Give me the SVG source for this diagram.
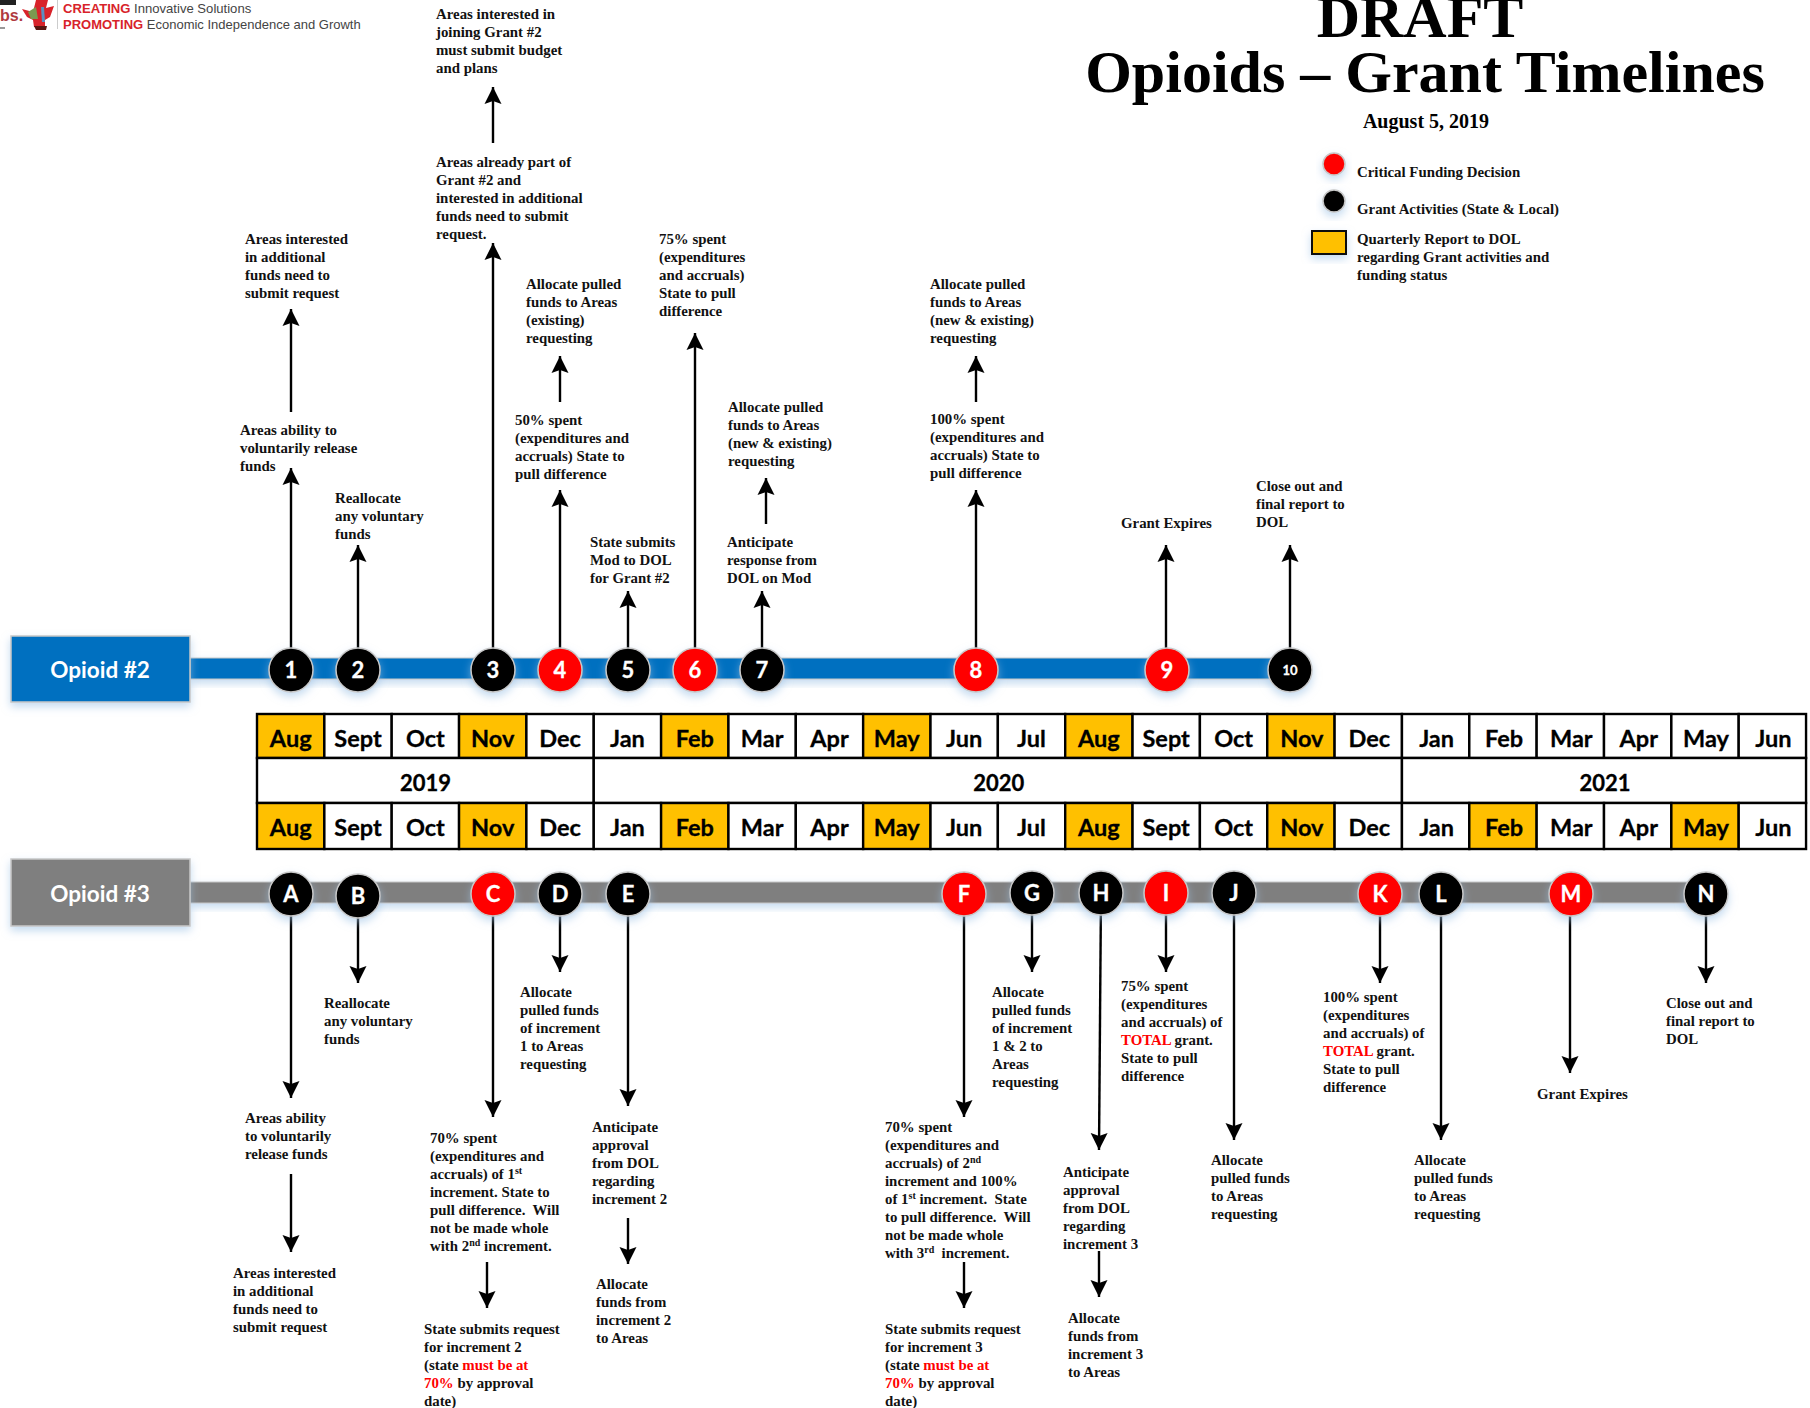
<svg xmlns="http://www.w3.org/2000/svg" width="1810" height="1408" viewBox="0 0 1810 1408">
<style>
text{font-family:"Liberation Serif",serif}
.t{font-size:14.85px;font-weight:bold;fill:#111;white-space:pre}
.r{fill:#f00}
.s{font-size:10px}
.n{font-family:Lato,"Open Sans",sans-serif;font-weight:bold;font-size:22px;fill:#fff;text-anchor:middle;stroke:#fff;stroke-width:.3}
.m{font-family:Lato,"Open Sans",sans-serif;font-weight:bold;font-size:23.5px;fill:#000;text-anchor:middle;stroke:#000;stroke-width:.3}
.o{font-family:Lato,"Open Sans",sans-serif;font-weight:bold;font-size:22.5px;fill:#fff;text-anchor:middle}
.c{fill:none;stroke:#000;stroke-width:2.4;marker-end:url(#a)}
.g{fill:#fff;stroke:#000;stroke-width:2.4}
.y{fill:#ffc000;stroke:#000;stroke-width:2.4}
.b{stroke:#c8c8c8;stroke-width:1.5;filter:url(#sh)}
</style>
<defs>
<marker id="a" markerUnits="userSpaceOnUse" markerWidth="18" markerHeight="18" refX="17" refY="9" orient="auto"><path d="M0 .5L17 9L0 17.5L3 9Z" fill="#000"/></marker>
<filter id="sh" x="-30%" y="-30%" width="160%" height="170%"><feDropShadow dx="0" dy="4" stdDeviation="4" flood-color="#9dc3e6" flood-opacity=".6"/></filter>
</defs>
<g id="logo">
<rect x="0" y="0" width="16" height="5" fill="#222"/>
<text x="0" y="21" font-size="16" fill="#b03a40" font-weight="bold" style="font-family:'Liberation Sans',sans-serif">bs.</text>
<rect x="0" y="27" width="5" height="2" fill="#999"/>
<path d="M22 9L33 12L36 0L48 0L46 8L54 6L50 17L45 20L45 27L34 27L33 20L27 17Z" fill="#d8232a"/>
<path d="M28 12L36 7L38 19L31 19Z" fill="#7a9a50"/>
<path d="M41 7L44 7L45 22L42 22Z" fill="#5b8fc0"/>
<path d="M34 26H47L46 30H36Z" fill="#5a1510"/>
<rect x="57" y="0" width="1" height="29" fill="#ccc"/>
<text x="63" y="13" font-size="13.1" style="font-family:'Liberation Sans',sans-serif" fill="#444"><tspan fill="#d8232a" font-weight="bold">CREATING</tspan> Innovative Solutions</text>
<text x="63" y="29" font-size="13" style="font-family:'Liberation Sans',sans-serif" fill="#444"><tspan fill="#d8232a" font-weight="bold">PROMOTING</tspan> Economic Independence and Growth</text>
</g>
<g id="title" font-weight="bold" text-anchor="middle">
<text x="1420" y="37" font-size="60">DRAFT</text>
<text x="1425" y="92" font-size="60">Opioids – Grant Timelines</text>
<text x="1426" y="128" font-size="20">August 5, 2019</text>
</g>
<g id="legend">
<circle class="b" cx="1334" cy="164" r="11" fill="#f00"/>
<circle class="b" cx="1334" cy="201" r="11" fill="#000"/>
<rect x="1312" y="231" width="34" height="23" fill="#ffc000" stroke="#111" stroke-width="2" filter="url(#sh)"/>
<text class="t" x="1357" y="177">Critical Funding Decision</text>
<text class="t" x="1357" y="214">Grant Activities (State &amp; Local)</text>
<text class="t" x="1357" y="244">Quarterly Report to DOL<tspan x="1357" dy="18">regarding Grant activities and</tspan><tspan x="1357" dy="18">funding status</tspan></text>
</g>
<g id="bars">
<rect x="190" y="658" width="1100" height="21" fill="#0070c0" stroke="#c8c8c8" filter="url(#sh)"/>
<rect x="190" y="882" width="1516" height="21" fill="#7f7f7f" stroke="#c8c8c8" filter="url(#sh)"/>
</g>
<g id="opioid2"><rect class="b" x="11" y="636" width="179" height="66" fill="#0070c0"/><text class="o" x="100" y="678">Opioid #2</text></g>
<g id="opioid3"><rect class="b" x="11" y="859" width="179" height="67" fill="#7f7f7f"/><text class="o" x="100" y="902">Opioid #3</text></g>
<g id="timeline">
<rect class="y" x="257" y="714" width="67.35" height="44"/><text class="m" x="290.7" y="747">Aug</text>
<rect class="g" x="324.35" y="714" width="67.35" height="44"/><text class="m" x="358" y="747">Sept</text>
<rect class="g" x="391.7" y="714" width="67.35" height="44"/><text class="m" x="425.4" y="747">Oct</text>
<rect class="y" x="459.05" y="714" width="67.35" height="44"/><text class="m" x="492.7" y="747">Nov</text>
<rect class="g" x="526.4" y="714" width="67.35" height="44"/><text class="m" x="560.1" y="747">Dec</text>
<rect class="g" x="593.75" y="714" width="67.35" height="44"/><text class="m" x="627.4" y="747">Jan</text>
<rect class="y" x="661.1" y="714" width="67.35" height="44"/><text class="m" x="694.8" y="747">Feb</text>
<rect class="g" x="728.45" y="714" width="67.35" height="44"/><text class="m" x="762.1" y="747">Mar</text>
<rect class="g" x="795.8" y="714" width="67.35" height="44"/><text class="m" x="829.5" y="747">Apr</text>
<rect class="y" x="863.15" y="714" width="67.35" height="44"/><text class="m" x="896.8" y="747">May</text>
<rect class="g" x="930.5" y="714" width="67.35" height="44"/><text class="m" x="964.2" y="747">Jun</text>
<rect class="g" x="997.85" y="714" width="67.35" height="44"/><text class="m" x="1031.5" y="747">Jul</text>
<rect class="y" x="1065.2" y="714" width="67.35" height="44"/><text class="m" x="1098.9" y="747">Aug</text>
<rect class="g" x="1132.55" y="714" width="67.35" height="44"/><text class="m" x="1166.2" y="747">Sept</text>
<rect class="g" x="1199.9" y="714" width="67.35" height="44"/><text class="m" x="1233.6" y="747">Oct</text>
<rect class="y" x="1267.25" y="714" width="67.35" height="44"/><text class="m" x="1301.9" y="747">Nov</text>
<rect class="g" x="1334.6" y="714" width="67.35" height="44"/><text class="m" x="1369.3" y="747">Dec</text>
<rect class="g" x="1401.95" y="714" width="67.35" height="44"/><text class="m" x="1436.6" y="747">Jan</text>
<rect class="g" x="1469.3" y="714" width="67.35" height="44"/><text class="m" x="1504" y="747">Feb</text>
<rect class="g" x="1536.65" y="714" width="67.35" height="44"/><text class="m" x="1571.3" y="747">Mar</text>
<rect class="g" x="1604" y="714" width="67.35" height="44"/><text class="m" x="1638.7" y="747">Apr</text>
<rect class="g" x="1671.35" y="714" width="67.35" height="44"/><text class="m" x="1706" y="747">May</text>
<rect class="g" x="1738.7" y="714" width="67.35" height="44"/><text class="m" x="1773.4" y="747">Jun</text>
<rect class="g" x="257" y="758" width="336.75" height="45"/><text class="m" x="425.4" y="791" style="font-size:22px">2019</text>
<rect class="g" x="593.75" y="758" width="808.2" height="45"/><text class="m" x="998.85" y="791" style="font-size:22px">2020</text>
<rect class="g" x="1401.95" y="758" width="404.1" height="45"/><text class="m" x="1605" y="791" style="font-size:22px">2021</text>
<rect class="y" x="257" y="803" width="67.35" height="46"/><text class="m" x="290.7" y="836">Aug</text>
<rect class="g" x="324.35" y="803" width="67.35" height="46"/><text class="m" x="358" y="836">Sept</text>
<rect class="g" x="391.7" y="803" width="67.35" height="46"/><text class="m" x="425.4" y="836">Oct</text>
<rect class="y" x="459.05" y="803" width="67.35" height="46"/><text class="m" x="492.7" y="836">Nov</text>
<rect class="g" x="526.4" y="803" width="67.35" height="46"/><text class="m" x="560.1" y="836">Dec</text>
<rect class="g" x="593.75" y="803" width="67.35" height="46"/><text class="m" x="627.4" y="836">Jan</text>
<rect class="y" x="661.1" y="803" width="67.35" height="46"/><text class="m" x="694.8" y="836">Feb</text>
<rect class="g" x="728.45" y="803" width="67.35" height="46"/><text class="m" x="762.1" y="836">Mar</text>
<rect class="g" x="795.8" y="803" width="67.35" height="46"/><text class="m" x="829.5" y="836">Apr</text>
<rect class="y" x="863.15" y="803" width="67.35" height="46"/><text class="m" x="896.8" y="836">May</text>
<rect class="g" x="930.5" y="803" width="67.35" height="46"/><text class="m" x="964.2" y="836">Jun</text>
<rect class="g" x="997.85" y="803" width="67.35" height="46"/><text class="m" x="1031.5" y="836">Jul</text>
<rect class="y" x="1065.2" y="803" width="67.35" height="46"/><text class="m" x="1098.9" y="836">Aug</text>
<rect class="g" x="1132.55" y="803" width="67.35" height="46"/><text class="m" x="1166.2" y="836">Sept</text>
<rect class="g" x="1199.9" y="803" width="67.35" height="46"/><text class="m" x="1233.6" y="836">Oct</text>
<rect class="y" x="1267.25" y="803" width="67.35" height="46"/><text class="m" x="1301.9" y="836">Nov</text>
<rect class="g" x="1334.6" y="803" width="67.35" height="46"/><text class="m" x="1369.3" y="836">Dec</text>
<rect class="g" x="1401.95" y="803" width="67.35" height="46"/><text class="m" x="1436.6" y="836">Jan</text>
<rect class="y" x="1469.3" y="803" width="67.35" height="46"/><text class="m" x="1504" y="836">Feb</text>
<rect class="g" x="1536.65" y="803" width="67.35" height="46"/><text class="m" x="1571.3" y="836">Mar</text>
<rect class="g" x="1604" y="803" width="67.35" height="46"/><text class="m" x="1638.7" y="836">Apr</text>
<rect class="y" x="1671.35" y="803" width="67.35" height="46"/><text class="m" x="1706" y="836">May</text>
<rect class="g" x="1738.7" y="803" width="67.35" height="46"/><text class="m" x="1773.4" y="836">Jun</text>
</g>
<g id="connectors">
<path class="c" d="M291 670V468"/><path class="c" d="M291 412V309"/>
<path class="c" d="M358 670V545"/>
<path class="c" d="M493 670V243"/><path class="c" d="M493 143V87"/>
<path class="c" d="M560 670V490"/><path class="c" d="M560 402V356"/>
<path class="c" d="M628 670V591"/>
<path class="c" d="M695 670V333"/>
<path class="c" d="M762 670V591"/><path class="c" d="M766 524V478"/>
<path class="c" d="M976 670V490"/><path class="c" d="M976 402V356"/>
<path class="c" d="M1166 670V545"/>
<path class="c" d="M1290 670V545"/>
<path class="c" d="M291 893V1098"/><path class="c" d="M291 1174V1252"/>
<path class="c" d="M358 895V983"/>
<path class="c" d="M493 893V1117"/><path class="c" d="M487 1262V1308"/>
<path class="c" d="M560 893V972"/>
<path class="c" d="M628 893V1106"/><path class="c" d="M628 1218V1264"/>
<path class="c" d="M964 893V1117"/><path class="c" d="M964 1262V1308"/>
<path class="c" d="M1032 893V972"/>
<path class="c" d="M1101 893L1099 1150"/><path class="c" d="M1099 1251V1297"/>
<path class="c" d="M1166 893V972"/>
<path class="c" d="M1234 893V1140"/>
<path class="c" d="M1380 893V983"/>
<path class="c" d="M1441 893V1140"/>
<path class="c" d="M1570 893V1073"/>
<path class="c" d="M1706 893V983"/>
</g>
<g id="n1"><circle class="b" cx="291" cy="670" r="22" fill="#000"/><text class="n" x="291" y="678">1</text></g>
<g id="n2"><circle class="b" cx="358" cy="670" r="22" fill="#000"/><text class="n" x="358" y="678">2</text></g>
<g id="n3"><circle class="b" cx="493" cy="670" r="22" fill="#000"/><text class="n" x="493" y="678">3</text></g>
<g id="n4"><circle class="b" cx="560" cy="670" r="22" fill="#f00"/><text class="n" x="560" y="678">4</text></g>
<g id="n5"><circle class="b" cx="628" cy="670" r="22" fill="#000"/><text class="n" x="628" y="678">5</text></g>
<g id="n6"><circle class="b" cx="695" cy="670" r="22" fill="#f00"/><text class="n" x="695" y="678">6</text></g>
<g id="n7"><circle class="b" cx="762" cy="670" r="22" fill="#000"/><text class="n" x="762" y="678">7</text></g>
<g id="n8"><circle class="b" cx="976" cy="670" r="22" fill="#f00"/><text class="n" x="976" y="678">8</text></g>
<g id="n9"><circle class="b" cx="1167" cy="670" r="22" fill="#f00"/><text class="n" x="1167" y="678">9</text></g>
<g id="n10"><circle class="b" cx="1290" cy="670" r="22" fill="#000"/><text class="n" x="1290" y="675" style="font-size:13px">10</text></g>
<g id="nA"><circle class="b" cx="291" cy="894" r="22" fill="#000"/><text class="n" x="291" y="902">A</text></g>
<g id="nB"><circle class="b" cx="358" cy="896" r="22" fill="#000"/><text class="n" x="358" y="904">B</text></g>
<g id="nC"><circle class="b" cx="493" cy="894" r="22" fill="#f00"/><text class="n" x="493" y="902">C</text></g>
<g id="nD"><circle class="b" cx="560" cy="894" r="22" fill="#000"/><text class="n" x="560" y="902">D</text></g>
<g id="nE"><circle class="b" cx="628" cy="894" r="22" fill="#000"/><text class="n" x="628" y="902">E</text></g>
<g id="nF"><circle class="b" cx="964" cy="894" r="22" fill="#f00"/><text class="n" x="964" y="902">F</text></g>
<g id="nG"><circle class="b" cx="1032" cy="893" r="22" fill="#000"/><text class="n" x="1032" y="901">G</text></g>
<g id="nH"><circle class="b" cx="1101" cy="893" r="22" fill="#000"/><text class="n" x="1101" y="901">H</text></g>
<g id="nI"><circle class="b" cx="1166" cy="893" r="22" fill="#f00"/><text class="n" x="1166" y="901">I</text></g>
<g id="nJ"><circle class="b" cx="1234" cy="893" r="22" fill="#000"/><text class="n" x="1234" y="901">J</text></g>
<g id="nK"><circle class="b" cx="1380" cy="894" r="22" fill="#f00"/><text class="n" x="1380" y="902">K</text></g>
<g id="nL"><circle class="b" cx="1441" cy="894" r="22" fill="#000"/><text class="n" x="1441" y="902">L</text></g>
<g id="nM"><circle class="b" cx="1571" cy="894" r="22" fill="#f00"/><text class="n" x="1571" y="902">M</text></g>
<g id="nN"><circle class="b" cx="1706" cy="894" r="22" fill="#000"/><text class="n" x="1706" y="902">N</text></g>
<g id="labels">
<text class="t" x="436" y="19">Areas interested in<tspan x="436" dy="18">joining Grant #2</tspan><tspan x="436" dy="18">must submit budget</tspan><tspan x="436" dy="18">and plans</tspan></text>
<text class="t" x="436" y="167">Areas already part of<tspan x="436" dy="18">Grant #2 and</tspan><tspan x="436" dy="18">interested in additional</tspan><tspan x="436" dy="18">funds need to submit</tspan><tspan x="436" dy="18">request.</tspan></text>
<text class="t" x="245" y="244">Areas interested<tspan x="245" dy="18">in additional</tspan><tspan x="245" dy="18">funds need to</tspan><tspan x="245" dy="18">submit request</tspan></text>
<text class="t" x="240" y="435">Areas ability to<tspan x="240" dy="18">voluntarily release</tspan><tspan x="240" dy="18">funds</tspan></text>
<text class="t" x="335" y="503">Reallocate<tspan x="335" dy="18">any voluntary</tspan><tspan x="335" dy="18">funds</tspan></text>
<text class="t" x="526" y="289">Allocate pulled<tspan x="526" dy="18">funds to Areas</tspan><tspan x="526" dy="18">(existing)</tspan><tspan x="526" dy="18">requesting</tspan></text>
<text class="t" x="515" y="425">50% spent<tspan x="515" dy="18">(expenditures and</tspan><tspan x="515" dy="18">accruals) State to</tspan><tspan x="515" dy="18">pull difference</tspan></text>
<text class="t" x="590" y="547">State submits<tspan x="590" dy="18">Mod to DOL</tspan><tspan x="590" dy="18">for Grant #2</tspan></text>
<text class="t" x="659" y="244">75% spent<tspan x="659" dy="18">(expenditures</tspan><tspan x="659" dy="18">and accruals)</tspan><tspan x="659" dy="18">State to pull</tspan><tspan x="659" dy="18">difference</tspan></text>
<text class="t" x="728" y="412">Allocate pulled<tspan x="728" dy="18">funds to Areas</tspan><tspan x="728" dy="18">(new &amp; existing)</tspan><tspan x="728" dy="18">requesting</tspan></text>
<text class="t" x="727" y="547">Anticipate<tspan x="727" dy="18">response from</tspan><tspan x="727" dy="18">DOL on Mod</tspan></text>
<text class="t" x="930" y="289">Allocate pulled<tspan x="930" dy="18">funds to Areas</tspan><tspan x="930" dy="18">(new &amp; existing)</tspan><tspan x="930" dy="18">requesting</tspan></text>
<text class="t" x="930" y="424">100% spent<tspan x="930" dy="18">(expenditures and</tspan><tspan x="930" dy="18">accruals) State to</tspan><tspan x="930" dy="18">pull difference</tspan></text>
<text class="t" x="1121" y="528">Grant Expires</text>
<text class="t" x="1256" y="491">Close out and<tspan x="1256" dy="18">final report to</tspan><tspan x="1256" dy="18">DOL</tspan></text>
<text class="t" x="324" y="1008">Reallocate<tspan x="324" dy="18">any voluntary</tspan><tspan x="324" dy="18">funds</tspan></text>
<text class="t" x="245" y="1123">Areas ability<tspan x="245" dy="18">to voluntarily</tspan><tspan x="245" dy="18">release funds</tspan></text>
<text class="t" x="233" y="1278">Areas interested<tspan x="233" dy="18">in additional</tspan><tspan x="233" dy="18">funds need to</tspan><tspan x="233" dy="18">submit request</tspan></text>
<text class="t" x="520" y="997">Allocate<tspan x="520" dy="18">pulled funds</tspan><tspan x="520" dy="18">of increment</tspan><tspan x="520" dy="18">1 to Areas</tspan><tspan x="520" dy="18">requesting</tspan></text>
<text class="t" x="430" y="1143">70% spent<tspan x="430" dy="18">(expenditures and</tspan><tspan x="430" dy="18">accruals) of 1</tspan><tspan class="s" dy="-5">st</tspan><tspan x="430" dy="23">increment. State to</tspan><tspan x="430" dy="18">pull difference.  Will</tspan><tspan x="430" dy="18">not be made whole</tspan><tspan x="430" dy="18">with 2</tspan><tspan class="s" dy="-5">nd</tspan><tspan dy="5"> increment.</tspan></text>
<text class="t" x="424" y="1334">State submits request<tspan x="424" dy="18">for increment 2</tspan><tspan x="424" dy="18">(state </tspan><tspan class="r">must be at</tspan><tspan x="424" dy="18" class="r">70%</tspan><tspan> by approval</tspan><tspan x="424" dy="18">date)</tspan></text>
<text class="t" x="592" y="1132">Anticipate<tspan x="592" dy="18">approval</tspan><tspan x="592" dy="18">from DOL</tspan><tspan x="592" dy="18">regarding</tspan><tspan x="592" dy="18">increment 2</tspan></text>
<text class="t" x="596" y="1289">Allocate<tspan x="596" dy="18">funds from</tspan><tspan x="596" dy="18">increment 2</tspan><tspan x="596" dy="18">to Areas</tspan></text>
<text class="t" x="885" y="1132">70% spent<tspan x="885" dy="18">(expenditures and</tspan><tspan x="885" dy="18">accruals) of 2</tspan><tspan class="s" dy="-5">nd</tspan><tspan x="885" dy="23">increment and 100%</tspan><tspan x="885" dy="18">of 1</tspan><tspan class="s" dy="-5">st</tspan><tspan dy="5"> increment.  State</tspan><tspan x="885" dy="18">to pull difference.  Will</tspan><tspan x="885" dy="18">not be made whole</tspan><tspan x="885" dy="18">with 3</tspan><tspan class="s" dy="-5">rd</tspan><tspan dy="5">  increment.</tspan></text>
<text class="t" x="885" y="1334">State submits request<tspan x="885" dy="18">for increment 3</tspan><tspan x="885" dy="18">(state </tspan><tspan class="r">must be at</tspan><tspan x="885" dy="18" class="r">70%</tspan><tspan> by approval</tspan><tspan x="885" dy="18">date)</tspan></text>
<text class="t" x="992" y="997">Allocate<tspan x="992" dy="18">pulled funds</tspan><tspan x="992" dy="18">of increment</tspan><tspan x="992" dy="18">1 &amp; 2 to</tspan><tspan x="992" dy="18">Areas</tspan><tspan x="992" dy="18">requesting</tspan></text>
<text class="t" x="1063" y="1177">Anticipate<tspan x="1063" dy="18">approval</tspan><tspan x="1063" dy="18">from DOL</tspan><tspan x="1063" dy="18">regarding</tspan><tspan x="1063" dy="18">increment 3</tspan></text>
<text class="t" x="1068" y="1323">Allocate<tspan x="1068" dy="18">funds from</tspan><tspan x="1068" dy="18">increment 3</tspan><tspan x="1068" dy="18">to Areas</tspan></text>
<text class="t" x="1121" y="991">75% spent<tspan x="1121" dy="18">(expenditures</tspan><tspan x="1121" dy="18">and accruals) of</tspan><tspan x="1121" dy="18" class="r">TOTAL</tspan><tspan> grant.</tspan><tspan x="1121" dy="18">State to pull</tspan><tspan x="1121" dy="18">difference</tspan></text>
<text class="t" x="1211" y="1165">Allocate<tspan x="1211" dy="18">pulled funds</tspan><tspan x="1211" dy="18">to Areas</tspan><tspan x="1211" dy="18">requesting</tspan></text>
<text class="t" x="1323" y="1002">100% spent<tspan x="1323" dy="18">(expenditures</tspan><tspan x="1323" dy="18">and accruals) of</tspan><tspan x="1323" dy="18" class="r">TOTAL</tspan><tspan> grant.</tspan><tspan x="1323" dy="18">State to pull</tspan><tspan x="1323" dy="18">difference</tspan></text>
<text class="t" x="1414" y="1165">Allocate<tspan x="1414" dy="18">pulled funds</tspan><tspan x="1414" dy="18">to Areas</tspan><tspan x="1414" dy="18">requesting</tspan></text>
<text class="t" x="1537" y="1099">Grant Expires</text>
<text class="t" x="1666" y="1008">Close out and<tspan x="1666" dy="18">final report to</tspan><tspan x="1666" dy="18">DOL</tspan></text>
</g>
</svg>
